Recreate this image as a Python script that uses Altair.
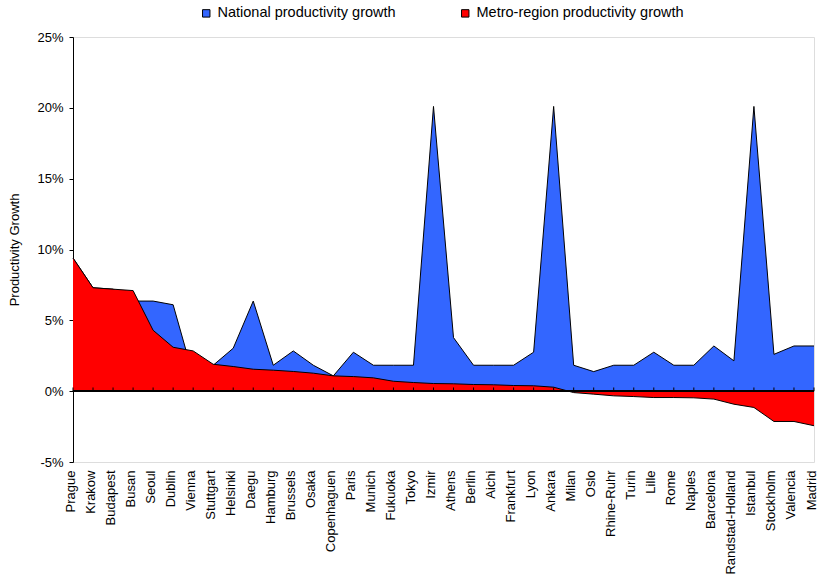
import altair as alt
import pandas as pd

cities = ["Prague", "Krakow", "Budapest", "Busan", "Seoul", "Dublin", "Vienna",
          "Stuttgart", "Helsinki", "Daegu", "Hamburg", "Brussels", "Osaka",
          "Copenhaguen", "Paris", "Munich", "Fukuoka", "Tokyo", "Izmir", "Athens",
          "Berlin", "Aichi", "Frankfurt", "Lyon", "Ankara", "Milan", "Oslo",
          "Rhine-Ruhr", "Turin", "Lille", "Rome", "Naples", "Barcelona",
          "Randstad-Holland", "Istanbul", "Stockholm", "Valencia", "Madrid"]

national = [9.4, 7.3, 7.2, 6.36, 6.36, 6.1, 1.1, 1.83, 3.03, 6.36, 1.83, 2.84, 1.83,
            1.08, 2.75, 1.83, 1.83, 1.83, 20.1, 3.78, 1.83, 1.83, 1.83, 2.75, 20.1,
            1.83, 1.38, 1.83, 1.83, 2.75, 1.83, 1.83, 3.19, 2.14, 20.1, 2.6, 3.19, 3.19]

metro = [9.4, 7.3, 7.2, 7.1, 4.3, 3.1, 2.84, 1.9, 1.74, 1.55, 1.48, 1.39, 1.27,
         1.08, 1.03, 0.94, 0.7, 0.61, 0.54, 0.52, 0.47, 0.45, 0.4, 0.38, 0.28,
         -0.1, -0.21, -0.33, -0.38, -0.45, -0.45, -0.47, -0.56, -0.92, -1.15,
         -2.14, -2.14, -2.44]

S_NAT = "National productivity growth"
S_MET = "Metro-region productivity growth"

df = pd.concat([
    pd.DataFrame({"city": cities, "value": national, "series": S_NAT}),
    pd.DataFrame({"city": cities, "value": metro, "series": S_MET}),
], ignore_index=True)

FONT = "Liberation Sans"

x_enc = alt.X("city:N", sort=cities,
              scale=alt.Scale(type="point", padding=0),
              axis=alt.Axis(title=None, labelAngle=-90, ticks=False, domain=False,
                            labelPadding=8, labelOffset=-3, labelFontSize=13,
                            labelFont=FONT, labelColor="black"))
y_scale = alt.Scale(domain=[-5, 25], nice=False, zero=False)
y_enc = alt.Y("value:Q", scale=y_scale, stack=None,
              axis=alt.Axis(title="Productivity Growth", values=[-5, 0, 5, 10, 15, 20, 25],
                            labelExpr="datum.value + '%'", grid=False,
                            domainColor="black", tickColor="black", tickSize=4,
                            labelPadding=6, labelFontSize=13, labelFont=FONT,
                            labelColor="black", titleFontSize=13, titleFont=FONT,
                            titleFontWeight="normal", titleColor="black",
                            titlePadding=15))

color = alt.Color("series:N",
                  scale=alt.Scale(domain=[S_NAT, S_MET], range=["#3366FF", "#FF0000"]),
                  legend=alt.Legend(title=None, orient="none", direction="horizontal",
                                    legendX=126, legendY=-31, symbolType="square",
                                    symbolSize=55, symbolStrokeColor="black",
                                    symbolStrokeWidth=1, symbolOpacity=1,
                                    labelFontSize=14.5, labelFont=FONT, labelColor="black",
                                    labelLimit=0, columnPadding=62, labelOffset=4))

base = alt.Chart(df)

def area(series):
    return base.transform_filter(alt.datum.series == series).mark_area(opacity=1).encode(
        x=x_enc, y=y_enc, y2=alt.Y2(datum=0), color=color)

def line(series):
    return base.transform_filter(alt.datum.series == series).mark_line(
        color="black", strokeWidth=1).encode(x=x_enc, y=y_enc)

ticks = alt.Chart(pd.DataFrame({"city": cities})).mark_rule(
    color="black", strokeWidth=1).encode(
    x=x_enc, y=alt.Y(datum=0, scale=y_scale), y2=alt.Y2(datum=0.26))

zero = alt.Chart(pd.DataFrame({"city": cities})).mark_rule(
    color="black", strokeWidth=1).encode(y=alt.Y(datum=0, scale=y_scale))

chart = alt.layer(
    area(S_NAT), line(S_NAT), area(S_MET), line(S_MET), zero, ticks
).properties(
    width=741, height=425,
    autosize=alt.AutoSizeParams(type="none"),
    padding={"left": 73, "top": 37, "right": 3, "bottom": 121},
).configure_view(
    stroke="#808080", strokeWidth=1.5
).configure(background="white")

chart.save("out.html", embed_options={"renderer": "svg", "actions": False})
